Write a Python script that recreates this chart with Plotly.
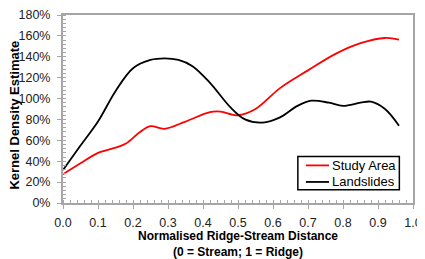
import plotly.graph_objects as go

study_x = [0.0, 0.05, 0.1, 0.15, 0.18, 0.22, 0.25, 0.29, 0.35, 0.42, 0.45, 0.5, 0.55, 0.62, 0.7, 0.78, 0.85, 0.92, 0.96]
study_y = [27.5, 38, 48, 53, 57, 68, 73.5, 71, 78, 87, 87.5, 84, 90, 110, 127, 143, 153, 158, 156.5]

land_x = [0.0, 0.05, 0.1, 0.15, 0.2, 0.25, 0.29, 0.33, 0.37, 0.42, 0.48, 0.52, 0.57, 0.62, 0.67, 0.71, 0.76, 0.8, 0.85, 0.88, 0.92, 0.96]
land_y = [31.5, 55, 78, 107, 129, 137, 138.5, 137, 131, 115, 91, 80, 77, 82, 93, 98, 96, 93, 96, 97, 90, 74]

series_names = ["Study Area", "Landslides"]
series_colors = ["#ff0000", "#000000"]
y_title = "Kernel Density Estimate"

font = "Liberation Sans, Arial, sans-serif"
axis_col = "#a6a6a6"

fig = go.Figure()
for xs, ys, nm, col in [(study_x, study_y, series_names[0], series_colors[0]),
                        (land_x, land_y, series_names[1], series_colors[1])]:
    fig.add_trace(go.Scatter(x=xs, y=ys, mode="lines", name=nm, showlegend=False,
                             line=dict(color=col, width=1.8, shape="spline", smoothing=1.0)))

# compact boxed legend (plot-area fractions)
fig.add_shape(type="rect", xref="paper", yref="paper", x0=0.671, x1=0.961, y0=0.071, y1=0.247,
              line=dict(color="black", width=1.5), fillcolor="white", layer="above")
for i, (nm, col) in enumerate(zip(series_names, series_colors)):
    yy = 0.200 - i * 0.088
    fig.add_shape(type="line", xref="paper", yref="paper", x0=0.694, x1=0.760, y0=yy, y1=yy,
                  line=dict(color=col, width=1.8), layer="above")
    fig.add_annotation(xref="paper", yref="paper", x=0.764, y=yy, text=nm, showarrow=False,
                       xanchor="left", yanchor="middle",
                       font=dict(family=font, size=13, color="#000"))

# y-axis title
fig.add_annotation(xref="paper", yref="paper", x=0, y=0.465, xshift=-48, text="<b>" + y_title + "</b>",
                   textangle=-90, showarrow=False, xanchor="center", yanchor="middle",
                   font=dict(family=font, size=13, color="#000"))

fig.update_layout(
    width=417, height=251,
    margin=dict(l=55, r=12, t=7, b=56, autoexpand=False),
    plot_bgcolor="white", paper_bgcolor="white",
    font=dict(family=font, size=12, color="#222"),
    showlegend=False,
)
fig.update_xaxes(
    automargin=False,
    range=[0, 1.0], dtick=0.1, tickformat=".1f",
    showgrid=False, zeroline=False,
    showline=True, linecolor=axis_col, linewidth=2, mirror=True,
    ticks="outside", ticklen=4, tickcolor=axis_col, tickwidth=1,
    minor=dict(dtick=0.02, ticks="inside", ticklen=3, tickcolor=axis_col, showgrid=False),
    tickfont=dict(size=12.5, family=font, color="#222"), ticklabelstandoff=3,
    title=dict(text="<b>Normalised Ridge-Stream Distance<br>(0 = Stream; 1 = Ridge)</b>",
               font=dict(size=12, family=font, color="#000"), standoff=8),
)
fig.update_yaxes(
    automargin=False,
    range=[0, 180], dtick=20, ticksuffix="%",
    showgrid=False, zeroline=False,
    showline=True, linecolor=axis_col, linewidth=2, mirror=True,
    ticks="outside", ticklen=4, tickcolor=axis_col, tickwidth=1,
    minor=dict(dtick=4, ticks="inside", ticklen=3, tickcolor=axis_col, showgrid=False),
    tickfont=dict(size=12.5, family=font, color="#222"), ticklabelstandoff=4,
)

fig.write_html("out.html")
